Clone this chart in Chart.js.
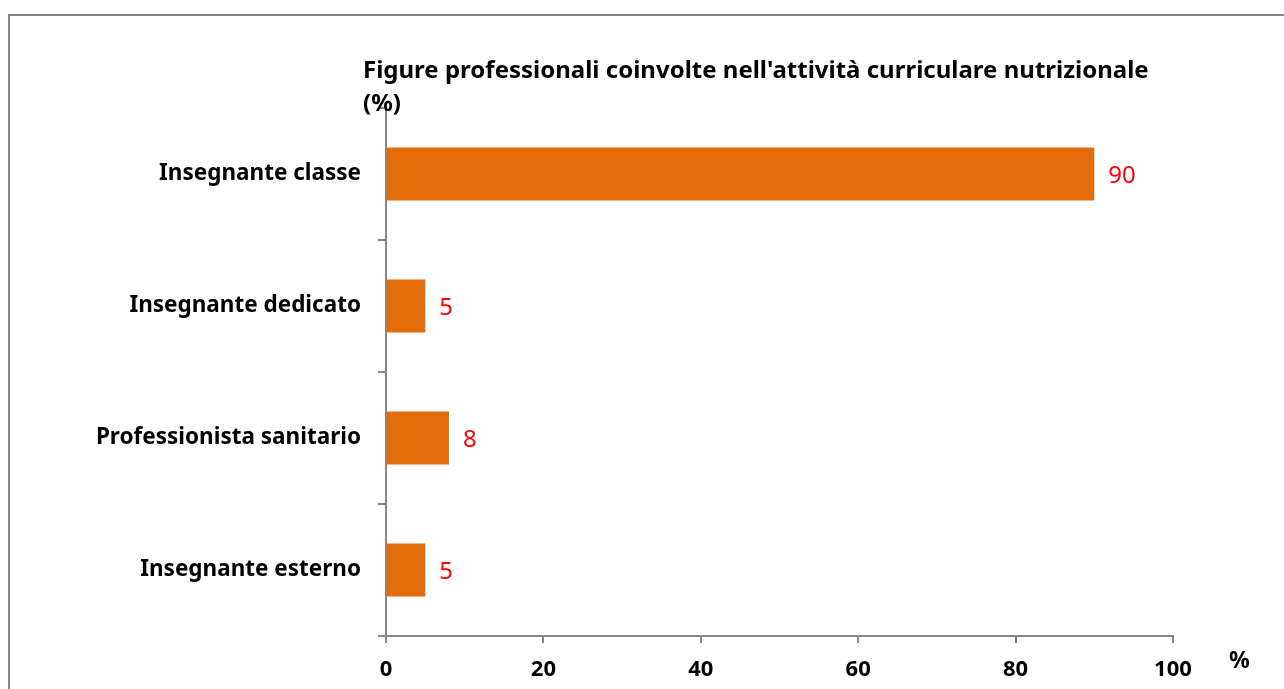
<!DOCTYPE html>
<html>
<head>
<meta charset="utf-8">
<script src="https://cdn.jsdelivr.net/npm/chart.js@4/dist/chart.umd.min.js"></script>
<style>
  html, body { margin: 0; padding: 0; background: #fff; }
  #wrap { width: 1284px; height: 689px; }
</style>
</head>
<body>
<div id="wrap"><canvas id="chart" width="1284" height="689"></canvas></div>
<script>
// chart data
const categories = ['Insegnante classe', 'Insegnante dedicato', 'Professionista sanitario', 'Insegnante esterno'];
const values = [90, 5, 8, 5];
const xTicks = [0, 20, 40, 60, 80, 100];
const titleLines = ["Figure professionali coinvolte nell'attività curriculare nutrizionale", '(%)'];
const unitLabel = '%';

const FONT = '"Noto Sans", "Open Sans", sans-serif';
const AXIS = '#868686';

// frame, title and unit text
const decorPlugin = {
    id: 'decor',
    beforeDraw(chart) {
        const ctx = chart.ctx;
        ctx.save();
        ctx.fillStyle = '#ffffff';
        ctx.fillRect(0, 0, chart.width, chart.height);
        ctx.strokeStyle = AXIS;
        ctx.lineWidth = 2;
        ctx.strokeRect(9, 15, chart.width + 20, chart.height + 20);
        ctx.restore();
    },
    afterDraw(chart) {
        const ctx = chart.ctx;
        ctx.save();
        ctx.fillStyle = '#000';
        ctx.font = 'bold 24px ' + FONT;
        ctx.textBaseline = 'middle';
        ctx.textAlign = 'left';
        ctx.fillText(titleLines[0], 363, 71);
        ctx.fillText(titleLines[1], 363, 104);
        ctx.font = 'bold 23px ' + FONT;
        ctx.fillText(unitLabel, 1229, 661);
        ctx.restore();
    }
};

// red value labels to the right of each bar
const valueLabels = {
    id: 'valueLabels',
    afterDatasetsDraw(chart) {
        const ctx = chart.ctx;
        const meta = chart.getDatasetMeta(0);
        ctx.save();
        ctx.fillStyle = '#ff0000';
        ctx.font = '24px ' + FONT;
        ctx.textBaseline = 'middle';
        ctx.textAlign = 'left';
        meta.data.forEach((bar, i) => {
            ctx.fillText(String(values[i]), bar.x + 14, bar.y + 2);
        });
        ctx.restore();
    }
};

new Chart(document.getElementById('chart'), {
    type: 'bar',
    data: {
        labels: categories,
        datasets: [{
            data: values,
            backgroundColor: '#e46c0a',
            borderWidth: 0,
            categoryPercentage: 0.4,
            barPercentage: 1.0
        }]
    },
    options: {
        indexAxis: 'y',
        responsive: false,
        animation: false,
        devicePixelRatio: 1,
        layout: { padding: { left: 0, right: 111, top: 108, bottom: 0 } },
        plugins: {
            legend: { display: false },
            title: { display: false },
            tooltip: { enabled: false }
        },
        scales: {
            x: {
                min: 0,
                max: 100,
                afterBuildTicks(scale) {
                    scale.ticks = xTicks.map(v => ({ value: v }));
                },
                afterFit(scale) { scale.height = 689 - 636; },
                border: { color: AXIS, width: 2 },
                grid: { drawOnChartArea: false, drawTicks: true, tickLength: 7, color: AXIS, lineWidth: 2 },
                ticks: {
                    color: '#000',
                    padding: 14,
                    maxRotation: 0,
                    font: { family: FONT, size: 22, weight: 'bold' }
                }
            },
            y: {
                afterFit(scale) { scale.width = 386; },
                border: { color: AXIS, width: 2 },
                grid: { drawOnChartArea: false, drawTicks: true, tickLength: 8, color: AXIS, lineWidth: 2, offset: true },
                ticks: {
                    color: '#000',
                    padding: 17,
                    font: { family: FONT, size: 22.5, weight: 'bold' }
                }
            }
        }
    },
    plugins: [decorPlugin, valueLabels]
});
</script>
</body>
</html>
